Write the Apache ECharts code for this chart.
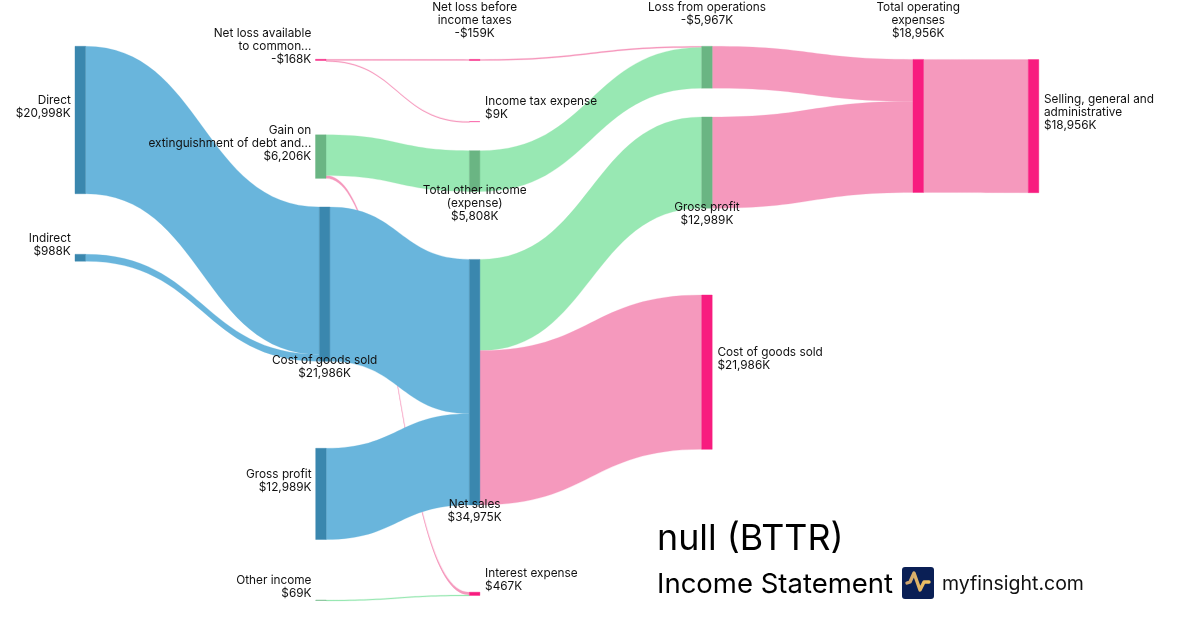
<!DOCTYPE html>
<html>
<head>
<meta charset="utf-8">
<script src="https://cdn.jsdelivr.net/npm/echarts@6/dist/echarts.min.js"></script>
<style>
  html, body { margin: 0; background: #fff; }
  #chart { width: 1200px; height: 630px; }
</style>
</head>
<body>
<div id="chart"></div>
<script>
// values in $K
const nodeIds = ['direct', 'indirect', 'netLoss', 'gain', 'cogsIn', 'grossIn', 'otherIncome',
  'lossBeforeTax', 'incomeTax', 'totalOther', 'netSales', 'interest',
  'lossOps', 'grossOut', 'cogsOut', 'totalOpex', 'sga']
const nodeTitles = ['Direct', 'Indirect', 'Net loss available\nto common...', 'Gain on\nextinguishment of debt and...',
  'Cost of goods sold', 'Gross profit', 'Other income',
  'Net loss before\nincome taxes', 'Income tax expense', 'Total other income\n(expense)', 'Net sales', 'Interest expense',
  'Loss from operations', 'Gross profit', 'Cost of goods sold', 'Total operating\nexpenses', 'Selling, general and\nadministrative']
const nodeAmounts = [20998, 988, -168, 6206, 21986, 12989, 69, -159, 9, 5808, 34975, 467, -5967, 12989, 21986, 18956, 18956]
const nodeKinds = ['in', 'in', 'out', 'profit', 'in', 'in', 'profit',
  'out', 'out', 'profit', 'in', 'out', 'profit', 'profit', 'out', 'out', 'out']

// the gain -> interest link comes first, it runs behind the blue flows
const linkSources = ['gain', 'direct', 'indirect', 'cogsIn', 'grossIn', 'netLoss', 'netLoss', 'gain', 'otherIncome',
  'netSales', 'netSales', 'lossBeforeTax', 'totalOther', 'lossOps', 'grossOut', 'totalOpex']
const linkTargets = ['interest', 'cogsIn', 'cogsIn', 'netSales', 'netSales', 'lossBeforeTax', 'incomeTax', 'totalOther', 'interest',
  'grossOut', 'cogsOut', 'lossOps', 'lossOps', 'totalOpex', 'totalOpex', 'sga']
const linkValues = [398, 20998, 988, 21986, 12989, 159, 9, 5808, 69, 12989, 21986, 159, 5808, 5967, 12989, 18956]
const linkKinds = ['out', 'in', 'in', 'in', 'in', 'out', 'out', 'profit', 'profit',
  'profit', 'out', 'out', 'profit', 'out', 'out', 'out']

const palette = {
  in: { node: '#3a87ae', link: '#69b5dc' },
  profit: { node: '#6ab583', link: '#98e8b3' },
  out: { node: '#f81c7f', link: '#f599bd' }
}

// where each node sits in the picture (left, top), and where its label goes
const placement = {
  direct: [75, 46.3, 'left'], indirect: [75, 254.3, 'left'], netLoss: [315.5, 59.3, 'left'],
  gain: [315.5, 134.8, 'left'], cogsIn: [319.4, 207, 'bottom'], grossIn: [315.7, 448.3, 'left'],
  otherIncome: [315.7, 600, 'left'], lossBeforeTax: [469.4, 59.4, 'top'], incomeTax: [469.4, 121.6, 'right'],
  totalOther: [469.4, 150.7, 'bottom'], netSales: [469.4, 259.4, 'bottom'], interest: [469.4, 592.2, 'right'],
  lossOps: [701.7, 46.3, 'top'], grossOut: [701.7, 117, 'bottom'], cogsOut: [701.7, 295, 'right'],
  totalOpex: [913, 59.4, 'top'], sga: [1028.3, 59.6, 'right']
}
const depths = [0, 0, 1, 1, 1, 1, 1, 2, 2, 2, 2, 2, 3, 3, 3, 4, 5]

const money = v => (v < 0 ? '-' : '') + '$' + Math.abs(v).toLocaleString('en-US') + 'K'

const labelFor = pos => {
  if (pos === 'top') return { position: 'top', distance: 19, align: 'center' }
  if (pos === 'bottom') return { position: 'bottom', distance: -7.5, align: 'center' }
  if (pos === 'left') return { position: 'left', distance: 4, offset: [0, -13] }
  return { position: 'right', distance: 5, offset: [0, -13.6] }
}

const nodes = nodeIds.map((id, i) => {
  const [x, y, pos] = placement[id]
  const colors = palette[nodeKinds[i]]
  return {
    name: id,
    depth: depths[i],
    localX: x / 1200,
    localY: y / 630,
    itemStyle: { color: colors.node, borderColor: colors.node, borderWidth: 0.4, opacity: 1 },
    label: { formatter: nodeTitles[i] + '\n' + money(nodeAmounts[i]), ...labelFor(pos) }
  }
})

const links = linkSources.map((source, i) => {
  const color = palette[linkKinds[i]].link
  return {
    source,
    target: linkTargets[i],
    value: linkValues[i],
    lineStyle: { color, opacity: 1, borderColor: color, borderWidth: 0.25 }
  }
})

const chart = echarts.init(document.getElementById('chart'), null, { renderer: 'canvas' })
chart.setOption({
  backgroundColor: '#fff',
  animation: false,
  textStyle: { fontFamily: 'Inter, sans-serif' },
  series: [{
    type: 'sankey',
    left: 0,
    top: 0,
    right: 0,
    bottom: 0,
    nodeWidth: 10.5,
    nodeGap: 84.8,
    layoutIterations: 0,
    draggable: false,
    emphasis: { disabled: true },
    label: {
      show: true,
      fontFamily: 'Inter, sans-serif',
      fontSize: 11.8,
      lineHeight: 13,
      color: '#111'
    },
    lineStyle: { curveness: 0.5 },
    data: nodes,
    links
  }],
  graphic: [
    { type: 'text', left: 657, top: 521, style: { text: 'null (BTTR)', font: '35.8px Inter, sans-serif', fill: '#000' } },
    { type: 'text', left: 657, top: 570.5, style: { text: 'Income Statement', font: '27.5px Inter, sans-serif', fill: '#000' } },
    { type: 'rect', shape: { x: 902, y: 567, width: 32, height: 32, r: 3 }, style: { fill: '#0a1f55' } },
    {
      type: 'polyline',
      shape: { points: [[907, 583], [910, 582], [914, 573], [920, 590], [924, 582], [929, 582]] },
      style: {
        fill: null,
        lineWidth: 3.4,
        lineCap: 'round',
        lineJoin: 'round',
        stroke: new echarts.graphic.LinearGradient(0, 0, 1, 0, [
          { offset: 0, color: '#c9a070' },
          { offset: 1, color: '#f8c95f' }
        ])
      }
    },
    { type: 'text', left: 942, top: 574, style: { text: 'myfinsight.com', font: '19.5px Inter, sans-serif', fill: '#111' } }
  ]
})
</script>
</body>
</html>
